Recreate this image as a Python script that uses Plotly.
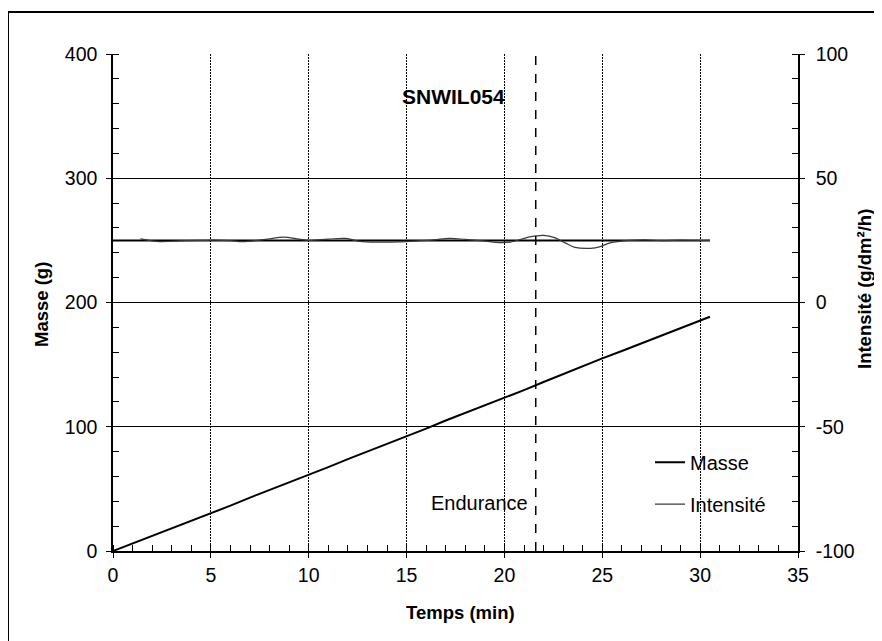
import plotly.graph_objects as go

# Masse (g) vs temps (min)
mass_t = [0, 1, 2, 3, 4, 5, 6, 7, 8, 9, 10, 11, 12, 13, 14, 15, 16, 17, 18, 19, 20,
          21, 22, 23, 24, 25, 26, 27, 28, 29, 30, 30.5]
mass_g = [0, 6, 12, 18.5, 24.5, 30.5, 36.5, 43, 49, 55.5, 61.5, 67.5, 74, 80, 86, 92.5,
          98.5, 105, 111, 117, 123, 129.5, 136, 142.5, 149, 155, 161, 167, 173.5, 179.5,
          185.5, 188.5]

# Intensité (g/dm²/h) vs temps (min)
int_t = [1.4, 2.4, 3.4, 4.4, 5.2, 6.0, 6.6, 7.4, 8.0, 8.7, 9.5, 10.0, 11.0, 11.9, 12.6,
         13.6, 14.6, 15.6, 16.4, 17.2, 18.0, 18.9, 19.8, 20.3, 21.3, 22.0, 22.6, 23.1,
         23.6, 24.4, 24.9, 25.4, 26.4, 27.2, 28.0, 29.0, 30.0, 30.5]
int_v = [25.6, 24.5, 24.8, 25.0, 25.1, 24.9, 24.5, 25.0, 25.6, 26.3, 25.5, 25.0, 25.5,
         25.8, 24.6, 24.3, 24.4, 24.8, 25.2, 25.8, 25.4, 24.8, 24.1, 24.3, 26.4, 27.0,
         26.0, 24.0, 22.2, 21.8, 22.5, 24.0, 25.0, 25.2, 24.9, 25.1, 25.0, 25.0]

# Ligne de référence plate (axe droit)
ref_t = [0, 30.5]
ref_v = [25, 25]

endurance_t = 21.6

x_ticks = [0, 5, 10, 15, 20, 25, 30, 35]
y_ticks = [0, 100, 200, 300, 400]
y2_ticks = [-100, -50, 0, 50, 100]
y2_labels = ["-100", "-50", "0", "50", "100"]

FONT = "Liberation Sans, Arial, sans-serif"

fig = go.Figure()
fig.add_trace(go.Scatter(x=mass_t, y=mass_g, mode="lines", name="Masse", legendgroup="m",
                         line=dict(color="black", width=2)))
fig.add_trace(go.Scatter(x=ref_t, y=ref_v, mode="lines", showlegend=False, yaxis="y2",
                         line=dict(color="black", width=2)))
fig.add_trace(go.Scatter(x=int_t, y=int_v, mode="lines", name="Intensité", yaxis="y2",
                         legendgroup="i",
                         line=dict(color="#3a3a3a", width=1.2, shape="spline")))

fig.add_shape(type="line", xref="x", yref="y", x0=endurance_t, x1=endurance_t, y0=0, y1=400,
              line=dict(color="black", width=1.5, dash="dash"))

# cadre extérieur
fig.add_shape(type="line", xref="paper", yref="paper", x0=-0.1533, x1=1.14, y0=1.0845, y1=1.0845,
              line=dict(color="black", width=2))
fig.add_shape(type="line", xref="paper", yref="paper", x0=-0.1533, x1=-0.1533, y0=1.0845, y1=-0.21,
              line=dict(color="black", width=2))

fig.add_annotation(x=17.4, y=366, xref="x", yref="y", text="<b>SNWIL054</b>", showarrow=False,
                   font=dict(size=21, color="black", family=FONT))
fig.add_annotation(x=18.75, y=38.6, xref="x", yref="y", text="Endurance", showarrow=False,
                   font=dict(size=20, color="black", family=FONT))

# titres d'axes
fig.add_annotation(x=(460 - 113) / 685, y=(551 - 612) / 497, xref="paper", yref="paper",
                   xanchor="center", yanchor="middle",
                   text="<b>Temps (min)</b>", showarrow=False,
                   font=dict(size=18.5, color="black", family=FONT))
fig.add_annotation(x=(41 - 113) / 685, y=(551 - 305) / 497, xref="paper", yref="paper",
                   xanchor="center", yanchor="middle",
                   text="<b>Masse (g)</b>", showarrow=False, textangle=-90,
                   font=dict(size=18.5, color="black", family=FONT))
fig.add_annotation(x=(864 - 113) / 685, y=(551 - 289) / 497, xref="paper", yref="paper",
                   xanchor="center", yanchor="middle",
                   text="<b>Intensité (g/dm²/h)</b>", showarrow=False, textangle=-90,
                   font=dict(size=18.5, color="black", family=FONT))

fig.update_layout(
    width=882, height=641,
    margin=dict(l=105, r=92, t=46, b=98, autoexpand=False),
    paper_bgcolor="white", plot_bgcolor="white",
    font=dict(family=FONT, size=19.5, color="black"),
    showlegend=True,
    legend=dict(x=(650 - 113) / 685, y=0.218, xanchor="left", yanchor="top",
                bgcolor="rgba(0,0,0,0)", font=dict(size=20, family=FONT),
                itemwidth=30, tracegroupgap=13),
    xaxis=dict(range=[0, 35], tickvals=x_ticks, showgrid=True, gridcolor="black",
               griddash="2px,1px", gridwidth=1, showline=True, linecolor="black",
               linewidth=1.5, zeroline=False,
               ticks="outside", ticklen=5, tickcolor="black", ticklabelstandoff=1,
               automargin=False,
               minor=dict(dtick=1, ticks="inside", ticklen=6, tickcolor="black", showgrid=False)),
    yaxis=dict(range=[0, 400], tickvals=y_ticks, showgrid=True, gridcolor="black", gridwidth=1,
               showline=True, linecolor="black", linewidth=1.5, zeroline=False,
               ticks="outside", ticklen=5, tickcolor="black", ticklabelstandoff=5,
               automargin=False,
               minor=dict(dtick=20, ticks="inside", ticklen=6, tickcolor="black", showgrid=False)),
    yaxis2=dict(range=[-100, 100], tickvals=y2_ticks, ticktext=y2_labels, overlaying="y",
                side="right", showgrid=False,
                showline=True, linecolor="black", linewidth=1.5, zeroline=False,
                ticks="outside", ticklen=5, tickcolor="black", ticklabelstandoff=7,
                automargin=False,
                minor=dict(dtick=10, ticks="inside", ticklen=6, tickcolor="black")),
)

fig.write_html("out.html")
